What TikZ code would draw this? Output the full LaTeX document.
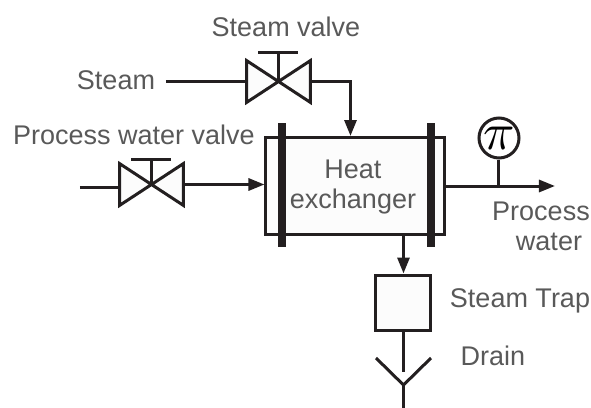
\documentclass[tikz,border=0pt]{standalone}
\usepackage{fontspec}
\usepackage{amsmath}
\usepackage{graphicx}
\setmainfont{Liberation Sans}
\usepackage{tikz}
\usetikzlibrary{arrows.meta,positioning}
\definecolor{linegray}{HTML}{231F20}
\definecolor{textgray}{HTML}{595959}
\definecolor{boxfill}{HTML}{FCFCFC}
\tikzset{
    line/.style={draw=linegray,line width=1.5pt},
    flow/.style={line,-{Triangle[length=8pt,width=6pt]}},
    valvebox/.style={rectangle,minimum width=31.5pt,minimum height=20.5pt,inner sep=0pt},
    lbl/.style={text=textgray,inner sep=0pt,align=center,font=\fontsize{13.5}{15}\selectfont},
    flange/.style={rectangle,fill=linegray,minimum width=4pt,minimum height=62pt,inner sep=0pt}
}
\begin{document}
\begin{tikzpicture}[x=0.5pt,y=-0.5pt]
    \useasboundingbox (0,0) rectangle (591,408);
    % heat exchanger
    \node (HX) [line,fill=boxfill,minimum width=89.5pt,minimum height=48.5pt,inner sep=0pt] at (355.5,185.5) {};
    \node (FL) [flange] at (282,185) {};
    \node (FR) [flange] at (431,185) {};
    \node (HXT) [lbl] at (353,187.5) {Heat\\exchanger};
    % valves
    \node (SV) [valvebox] at (278.5,81.5) {};
    \node (PV) [valvebox] at (151.5,184.5) {};
    \foreach \v/\h in {SV/14.5pt,PV/12.5pt} {
        \draw[line,fill=boxfill,line join=miter] (\v.north west) -- (\v.south east) -- (\v.north east) -- (\v.south west) -- cycle;
        \coordinate (\v cap) at ([yshift=\h]\v.center);
        \coordinate (\v capl) at ([xshift=-10pt]\v cap);
        \coordinate (\v capr) at ([xshift=10pt]\v cap);
        \draw[line] (\v.center) -- (\v cap);
        \draw[line] (\v capl) -- (\v capr);
    }
    % steam side
    \coordinate (STin) at (166,81.5);
    \coordinate (HXin) at (350.5,136);
    \draw[line] (STin) -- (SV.west);
    \draw[flow] (SV.east) -| (HXin);
    % process water side
    \coordinate (PWin) at (80,187);
    \coordinate (PWl) at (120,187);
    \draw[line] (PWin) -- (PWl);
    \draw[flow] (PV.east) -- (HX.west |- PV.east);
    \coordinate (HXout) at (HX.east |- 0,186);
    \coordinate (PWout) at (555,186);
    \draw[flow] (HXout) -- (PWout);
    % temperature gauge
    \node (TI) [line,circle,fill=white,minimum size=20pt,inner sep=0pt,text=black] at (499,138) {};
    \node (TIT) [inner sep=0pt,text=black] at (TI.center) {\scalebox{2.6}{$\pi$}};
    \coordinate (TIb) at (TI.south |- HXout);
    \draw[line] (TI.south) -- (TIb);
    % trap and drain
    \node (TR) [line,fill=boxfill,minimum size=27.5pt,inner sep=0pt] at (403.5,302.5) {};
    \coordinate (HXb) at (TR.north |- HX.south);
    \draw[flow] (HXb) -- (TR.north);
    \coordinate (DRt) at (403.5,372);
    \coordinate (DRv) at (403.5,385);
    \coordinate (DRl) at (376,358);
    \coordinate (DRr) at (431,358);
    \coordinate (DRb) at (403.5,408);
    \draw[line] (TR.south) -- (DRt);
    \draw[line] (DRl) -- (DRv) -- (DRr);
    \draw[line] (DRv) -- (DRb);
    % labels
    \node (L1) [lbl] at (286,27) {Steam valve};
    \node (L2) [lbl] at (116,80) {Steam};
    \node (L3) [lbl] at (134,135) {Process water valve};
    \node (L4) [lbl] at (541,226) {Process\\\hspace*{8pt}water};
    \node (L5) [lbl] at (520,301) {Steam Trap};
    \node (L6) [lbl] at (493,356) {Drain};
\end{tikzpicture}
\end{document}
